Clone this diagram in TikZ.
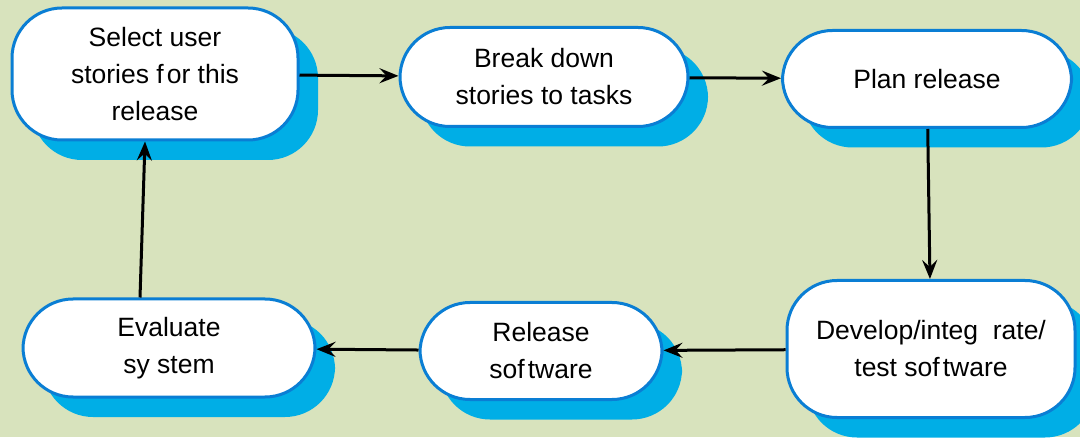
\documentclass[tikz,border=0pt]{standalone}
\usepackage{fontspec}
\setmainfont{Liberation Sans}
\usetikzlibrary{arrows.meta,shadows}
\definecolor{bggreen}{HTML}{D8E3BD}
\definecolor{edgeblue}{HTML}{0A7ED4}
\definecolor{shadowblue}{HTML}{00AEE6}
\tikzset{
	stage/.style={rectangle, rounded corners=50pt, draw=edgeblue, line width=3pt, fill=white, align=center, inner sep=0pt, font=\fontsize{26.5}{37}\selectfont, drop shadow={shadow xshift=20pt, shadow yshift=-20pt, fill=shadowblue, opacity=1}},
	arrow/.style={line width=3pt,-{Stealth[length=19pt,width=15pt,inset=7pt]}},
}
\newcommand{\gap}{\hspace{3pt}}

\begin{document}
\begin{tikzpicture}[x=1pt,y=1pt]
\useasboundingbox[fill=bggreen] (0,0) rectangle (1080,437);
\node (select) [stage, minimum width=286pt, minimum height=132pt] at (155,363) {Select user\\stories f\gap or this\\release};
\node (breakdown) [stage, minimum width=288pt, minimum height=99pt] at (544,360) {Break down\\stories to tasks};
\node (plan) [stage, minimum width=289pt, minimum height=97pt] at (927,358) {Plan release};
\node (develop) [stage, minimum width=288pt, minimum height=137pt] at (931,88) {Develop/integ\ \ rate/\\test sof\gap tware};
\node (release) [stage, minimum width=242pt, minimum height=97pt] at (541,86) {Release\\sof\gap tware};
\node (evaluate) [stage, minimum width=292pt, minimum height=98pt] at (169,89) {Evaluate\\sy stem};
\foreach \i/\j in {select/breakdown,breakdown/plan,plan/develop,develop/release,release/evaluate}
\draw [arrow] (\i) -- (\j);
\draw [arrow] ([xshift=-29pt]evaluate.north) -- ([xshift=-10pt]select.south);
\end{tikzpicture}
\end{document}
